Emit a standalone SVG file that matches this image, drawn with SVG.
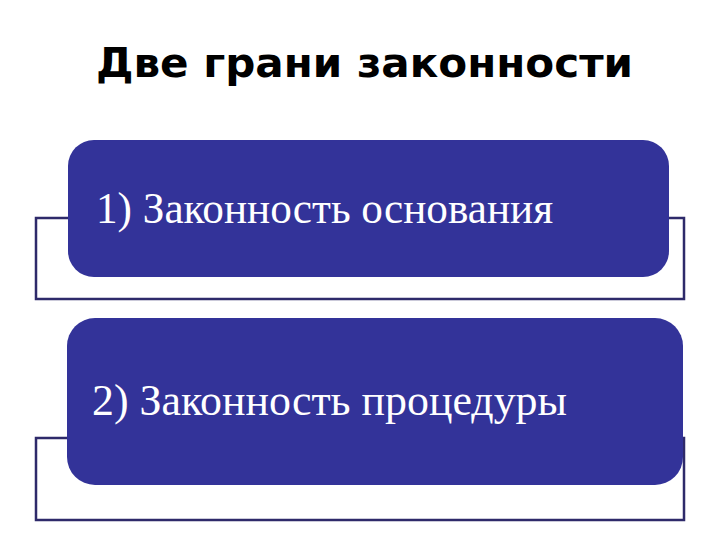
<svg xmlns="http://www.w3.org/2000/svg" width="720" height="540" viewBox="0 0 720 540">
<style>
.bracket{fill:none;stroke:#2e2a6a;stroke-width:2.5}
.box{fill:#333399}
.lbl{font-family:"Liberation Serif","Times New Roman",serif;font-size:45px;fill:#ffffff}
.title{font-family:"DejaVu Sans",Verdana,sans-serif;font-weight:bold;font-size:41px;fill:#000000}
</style>
<rect width="720" height="540" fill="#ffffff"/>
<text class="title" x="96" y="77" textLength="537" lengthAdjust="spacingAndGlyphs">Две грани законности</text>
<g id="connectors">
<rect class="bracket" x="36" y="218" width="648" height="81"/>
<rect class="bracket" x="36" y="438" width="648" height="82"/>
</g>
<g id="node1">
<rect class="box" x="68" y="140" width="601" height="137" rx="26"/>
<text class="lbl" x="96" y="223" textLength="457" lengthAdjust="spacingAndGlyphs">1) Законность основания</text>
</g>
<g id="node2">
<rect class="box" x="67" y="318" width="616" height="167" rx="28"/>
<text class="lbl" x="92" y="415" textLength="475" lengthAdjust="spacingAndGlyphs">2) Законность процедуры</text>
</g>
</svg>
